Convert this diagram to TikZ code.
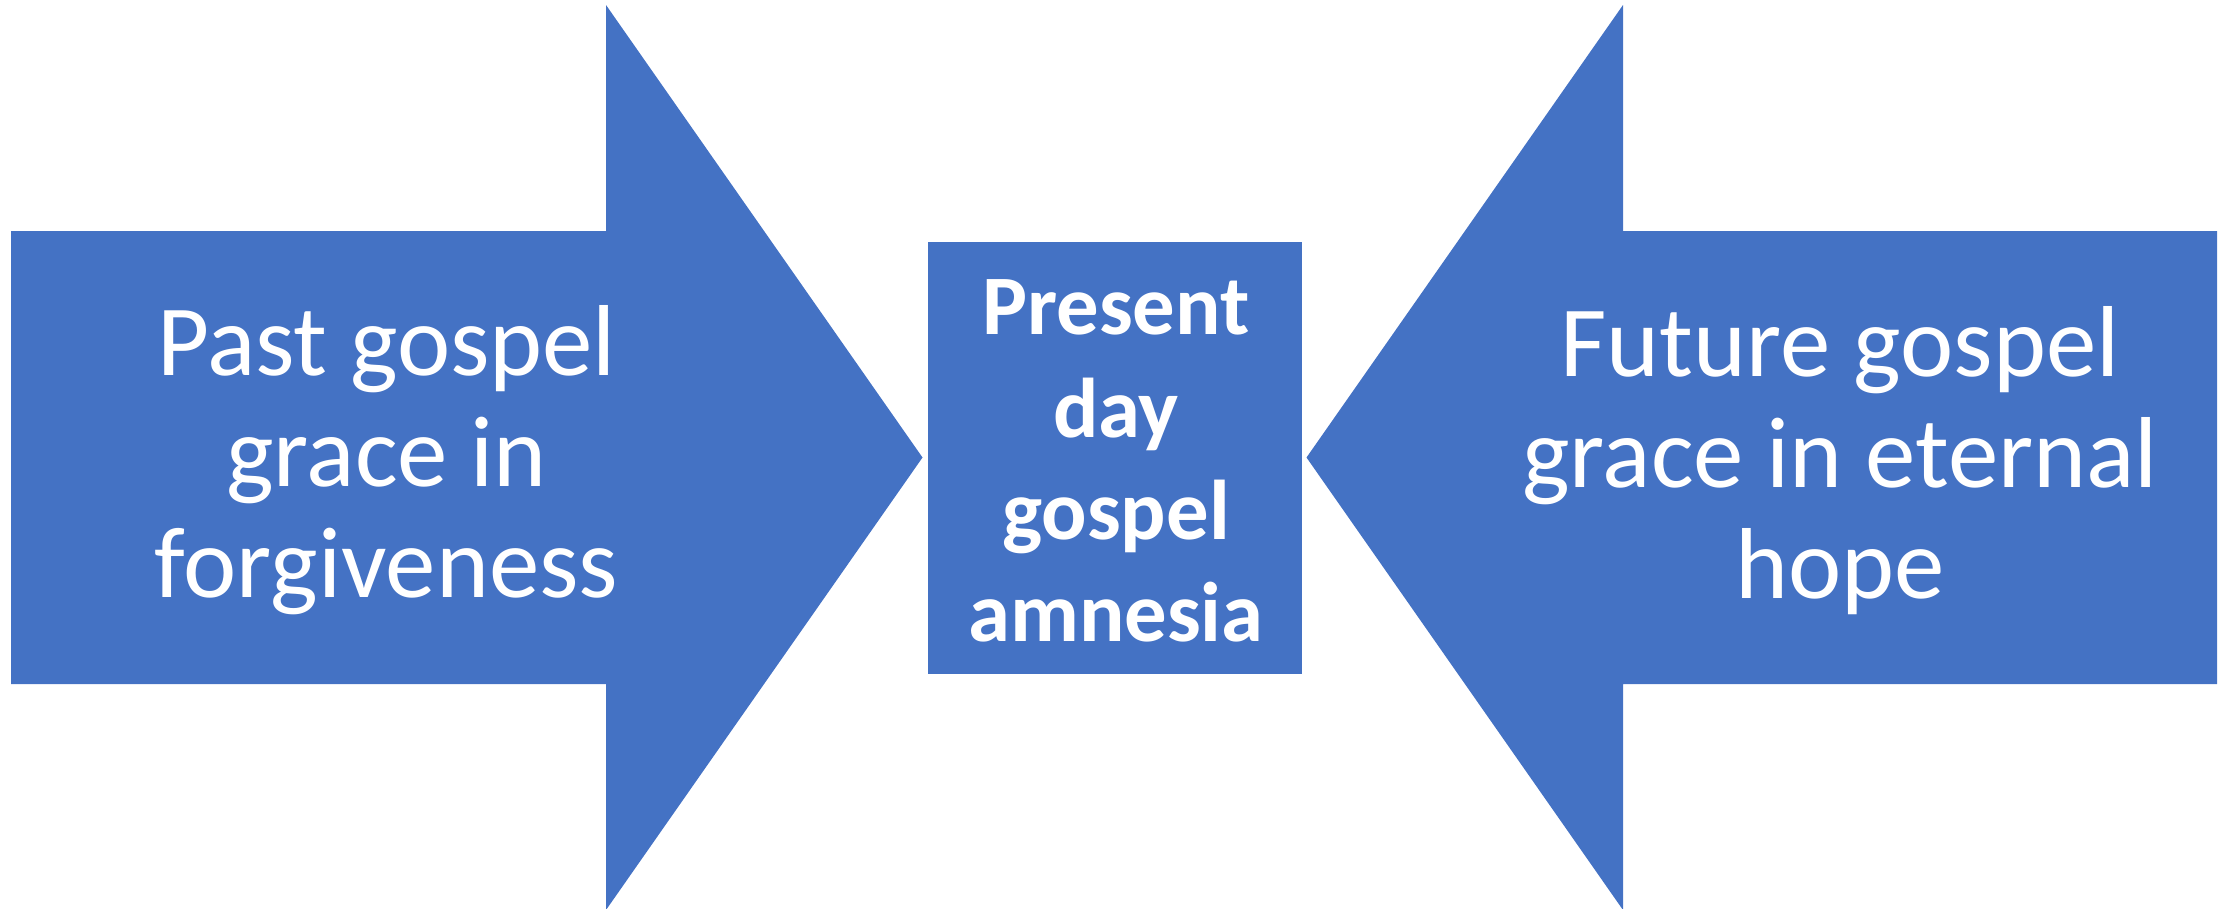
\documentclass[tikz,border=0pt]{standalone}
\usepackage{fontspec}
\setmainfont{Carlito}
\definecolor{gospelblue}{HTML}{4472C4}
\tikzset{
  arrowtext/.style={text=white, align=center, font=\fontsize{28.7}{31.6}\selectfont},
  boxtext/.style={text=white, align=center, font=\bfseries\fontsize{24.1}{29.1}\selectfont},
}

\begin{document}
\begin{tikzpicture}
		\useasboundingbox (0, 0) rectangle (22.31, 9.08);
		%%%%% PAST %%%%%
		\fill[gospelblue] (0.11, 6.77) -- (6.06, 6.77) -- (6.06, 9.03) -- (9.225, 4.505) -- (6.06, -0.02) -- (6.06, 2.24) -- (0.11, 2.24) -- cycle;
		\node[arrowtext] (past) at (3.865, 4.475) {Past gospel\\grace in\\forgiveness};
		
		%%%%% PRESENT %%%%%
		\fill[gospelblue] (9.28, 2.345) rectangle (13.02, 6.66);
		\node[boxtext] (present) at (11.16, 4.47) {Present\\day\\gospel\\amnesia};
		
		%%%%% FUTURE %%%%%
		\fill[gospelblue] (22.17, 6.77) -- (16.23, 6.77) -- (16.23, 9.03) -- (13.065, 4.505) -- (16.23, -0.02) -- (16.23, 2.24) -- (22.17, 2.24) -- cycle;
		\node[arrowtext] (future) at (18.40, 4.475) {Future gospel\\grace in eternal\\hope};
	\end{tikzpicture}
\end{document}
